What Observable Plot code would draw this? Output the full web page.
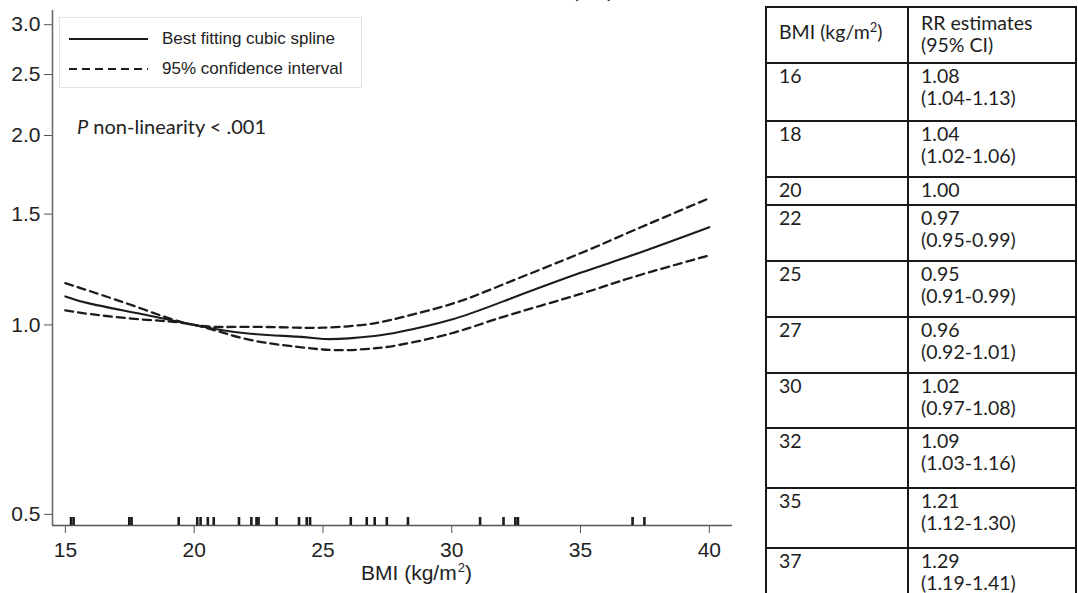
<!DOCTYPE html>
<html>
<head>
<meta charset="utf-8">
<script src="https://cdn.jsdelivr.net/npm/d3@7"></script>
<script src="https://cdn.jsdelivr.net/npm/@observablehq/plot@0.6"></script>
<style>
  html, body { margin: 0; padding: 0; background: #fff; }
  #page { position: relative; width: 1078px; height: 593px; overflow: hidden; background: #fff; }
  #chart { position: absolute; left: 0; top: 0; }
  .sans { font-family: "Liberation Sans", Arial, sans-serif; color: #222; }
  #title { position: absolute; right: 464px; top: -20px; line-height: 20px; font-size: 20px; white-space: nowrap; }
  #legend { position: absolute; left: 59px; top: 17px; width: 301px; height: 69px; border: 1px solid #e2e2e2; background: #fff; }
  #legend .row { position: absolute; left: 0; height: 20px; font-size: 17px; line-height: 20px; }
  #legend svg { position: absolute; left: 9px; top: 0; }
  #legend span { position: absolute; left: 102px; top: 0; white-space: nowrap; }
  #pnote { position: absolute; left: 77px; top: 115px; font-family: Lato, "Open Sans", sans-serif; font-size: 20px; line-height: 22px; color: #222; white-space: nowrap; }
  #xlabel { position: absolute; left: 361px; top: 562px; font-size: 21px; line-height: 22px; white-space: nowrap; }
  #xlabel sup { font-size: 13px; position: relative; top: -8px; vertical-align: baseline; margin-left: 1px; }
  #tbl { position: absolute; left: 765px; top: 6px; border-collapse: collapse; font-family: Lato, "Open Sans", sans-serif; font-size: 19.5px; line-height: 22px; color: #1e1e1e; }
  #tbl td { border: 2px solid #1a1a1a; padding: 1px 0 0 12px; vertical-align: top; text-align: left; box-sizing: border-box; }
  #tbl td.c1 { width: 142px; }
  #tbl td.c2 { width: 168px; }
  #tbl tr.hdr td { padding-top: 4px; }
  #tbl tr.hdr td.c1 { padding-top: 13px; }
  #tbl sup { font-size: 13px; vertical-align: 7px; line-height: 0; }
</style>
</head>
<body>
<div id="page">
  <div id="chart"></div>
  <div id="title" class="sans">Relative risk (RR)</div>
  <div id="legend" class="sans"></div>
  <div id="pnote"><i>P</i> non-linearity &lt; .001</div>
  <div id="xlabel" class="sans">BMI (kg/m<sup>2</sup>)</div>
  <table id="tbl"></table>
</div>
<script>
// ---- Data ----
// Spline curve and 95% CI (relative risk vs BMI)
const splineBMI = [15, 16, 18, 20, 22, 24, 25, 26, 27, 28, 30, 32, 35, 37, 40];
const splineRR  = [1.11, 1.08, 1.04, 1.00, 0.97, 0.958, 0.95, 0.952, 0.96, 0.975, 1.02, 1.09, 1.21, 1.29, 1.43];
const splineLo  = [1.055, 1.04, 1.02, 1.00, 0.95, 0.923, 0.914, 0.912, 0.918, 0.93, 0.97, 1.03, 1.12, 1.19, 1.29];
const splineHi  = [1.165, 1.13, 1.06, 1.00, 0.993, 0.99, 0.99, 0.995, 1.006, 1.027, 1.08, 1.16, 1.30, 1.41, 1.59];

// Rug of observed BMI values (study categories)
const rugBMI = [15.22, 15.32, 17.48, 17.57, 19.4, 20.12, 20.25, 20.53, 20.76, 21.74, 22.22, 22.42, 22.5,
                23.2, 24.07, 24.37, 24.5, 26.08, 26.7, 27.01, 27.48, 28.3, 31.1, 32.01, 32.47, 32.57, 37.02, 37.48];

// Axis ticks
const xTicks = [15, 20, 25, 30, 35, 40];
const yTicks = [0.5, 1.0, 1.5, 2.0, 2.5, 3.0];
const xDomain = [14.5, 40.9];
const yDomain = [0.48, 3.16];

// Table of RR estimates
const tableBMI = [16, 18, 20, 22, 25, 27, 30, 32, 35, 37];
const tableRR  = [1.08, 1.04, 1.00, 0.97, 0.95, 0.96, 1.02, 1.09, 1.21, 1.29];
const tableLo  = [1.04, 1.02, null, 0.95, 0.91, 0.92, 0.97, 1.03, 1.12, 1.19];
const tableHi  = [1.13, 1.06, null, 0.99, 0.99, 1.01, 1.08, 1.16, 1.30, 1.41];

// Legend entries
const legendLabels = ["Best fitting cubic spline", "95% confidence interval"];
const legendDash = [null, "8,5"];

// ---- Layout (row pitch of the table, px) ----
const headerPitch = 56;
const rowPitch = [58, 56, 28, 56, 56, 56, 55, 60, 60, 62];

// ---- Build ----
const rows = splineBMI.map((x, i) => ({x, rr: splineRR[i], lo: splineLo[i], hi: splineHi[i]}));
const ink = "#1c1c1c";

const plot = Plot.plot({
  width: 746,
  height: 593,
  marginLeft: 52,
  marginRight: 14,
  marginTop: 10,
  marginBottom: 68,
  style: {fontFamily: '"Liberation Sans", Arial, sans-serif', fontSize: "21px", color: "#222", background: "transparent", overflow: "visible"},
  x: {domain: xDomain},
  y: {type: "log", domain: yDomain},
  marks: [
    Plot.axisY({ticks: yTicks, tickFormat: d3.format(".1f"), tickSize: 8, tickPadding: 4, stroke: "#555", fontSize: 21, label: null}),
    Plot.axisX({ticks: xTicks, tickFormat: d => String(d), tickSize: 8, tickPadding: 9, stroke: "#555", fontSize: 21, label: null}),
    Plot.ruleX([xDomain[0]], {stroke: "#6a6a6a", strokeWidth: 1.6}),
    Plot.ruleY([yDomain[0]], {stroke: "#555", strokeWidth: 1.6}),
    Plot.tickX(rugBMI, {x: d => d, insetTop: 507, stroke: ink, strokeWidth: 2.6}),
    Plot.line(rows, {x: "x", y: "hi", curve: "natural", stroke: ink, strokeWidth: 2.3, strokeDasharray: "8,5"}),
    Plot.line(rows, {x: "x", y: "lo", curve: "natural", stroke: ink, strokeWidth: 2.3, strokeDasharray: "8,5"}),
    Plot.line(rows, {x: "x", y: "rr", curve: "natural", stroke: ink, strokeWidth: 2.1})
  ]
});
document.getElementById("chart").appendChild(plot);

// Legend
const legend = document.getElementById("legend");
legendLabels.forEach((lab, i) => {
  const row = document.createElement("div");
  row.className = "row";
  row.style.top = (11 + i * 30) + "px";
  row.style.width = "300px";
  const dash = legendDash[i] ? ` stroke-dasharray="${legendDash[i]}"` : "";
  row.innerHTML = `<svg width="80" height="20"><line x1="0" x2="79" y1="10" y2="10" stroke="${ink}" stroke-width="2"${dash}/></svg><span>${lab}</span>`;
  legend.appendChild(row);
});

// Table
const tbl = document.getElementById("tbl");
let html = `<tr class="hdr"><td class="c1" style="height:${headerPitch}px">BMI (kg/m<sup>2</sup>)</td><td class="c2" style="height:${headerPitch}px">RR estimates<br>(95% CI)</td></tr>`;
tableBMI.forEach((b, i) => {
  const hasCI = tableLo[i] != null;
  const est = tableRR[i].toFixed(2) + (hasCI ? `<br>(${tableLo[i].toFixed(2)}-${tableHi[i].toFixed(2)})` : "");
  const h = `style="height:${rowPitch[i]}px"`;
  html += `<tr><td class="c1" ${h}>${b}</td><td class="c2" ${h}>${est}</td></tr>`;
});
tbl.innerHTML = html;
</script>
</body>
</html>
